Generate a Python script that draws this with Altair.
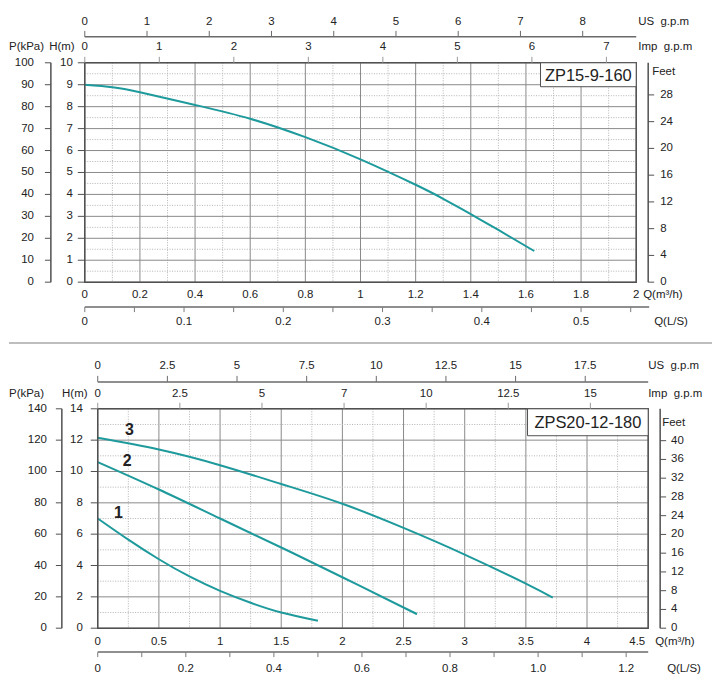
import altair as alt
import pandas as pd

FONT = "Liberation Sans"
TXT = "#222222"
CURVE = "#1e9a9c"
MAJOR = "#8a8a8a"
MINOR = "#b4b4b4"
AX = "#505050"
SEP = "#a8a8a8"
FS = 11.5
NB = "\u00a0"

# ---------------- panel 1 : ZP15-9-160 ----------------
p1_name = "ZP15-9-160"
p1_q = [0, 0.1, 0.2, 0.4, 0.6, 0.8, 1.0, 1.2, 1.3, 1.4, 1.5, 1.63]
p1_h = [9.0, 8.89, 8.66, 8.08, 7.45, 6.61, 5.6, 4.44, 3.8, 3.1, 2.38, 1.42]
p1_q_major = [0, 0.2, 0.4, 0.6, 0.8, 1, 1.2, 1.4, 1.6, 1.8, 2]
p1_q_labels = ["0", "0.2", "0.4", "0.6", "0.8", "1", "1.2", "1.4", "1.6", "1.8", "2"]
p1_q_minor = [0.1, 0.3, 0.5, 0.7, 0.9, 1.1, 1.3, 1.5, 1.7, 1.9]
p1_h_major = [0, 1, 2, 3, 4, 5, 6, 7, 8, 9, 10]
p1_h_minor = [0.5, 1.5, 2.5, 3.5, 4.5, 5.5, 6.5, 7.5, 8.5, 9.5]
p1_p = [0, 10, 20, 30, 40, 50, 60, 70, 80, 90, 100]
p1_feet = [0, 4, 8, 12, 16, 20, 24, 28]
p1_us = [0, 1, 2, 3, 4, 5, 6, 7, 8]
p1_imp = [0, 1, 2, 3, 4, 5, 6, 7]
p1_ls = [0, 0.05, 0.1, 0.15, 0.2, 0.25, 0.3, 0.35, 0.4, 0.45, 0.5, 0.55]
p1_ls_labels = ["0", "", "0.1", "", "0.2", "", "0.3", "", "0.4", "", "0.5", ""]

# ---------------- panel 2 : ZPS20-12-180 ----------------
p2_name = "ZPS20-12-180"
p2_c1_q = [0, 0.25, 0.5, 0.75, 1.0, 1.25, 1.5, 1.8]
p2_c1_h = [7.0, 5.65, 4.4, 3.3, 2.38, 1.62, 1.0, 0.47]
p2_c2_q = [0, 0.5, 1.0, 1.5, 2.0, 2.5, 2.61]
p2_c2_h = [10.6, 8.85, 7.0, 5.15, 3.25, 1.32, 0.9]
p2_c3_q = [0, 0.5, 1.0, 1.5, 2.0, 2.5, 3.0, 3.5, 3.72]
p2_c3_h = [12.15, 11.4, 10.4, 9.2, 7.94, 6.4, 4.7, 2.85, 1.95]
p2_curve_names = ["1", "2", "3"]
p2_label_q = [0.17, 0.24, 0.26]
p2_label_h = [7.34, 10.69, 12.67]
p2_q_major = [0, 0.5, 1, 1.5, 2, 2.5, 3, 3.5, 4, 4.5]
p2_q_labels = ["0", "0.5", "1", "1.5", "2", "2.5", "3", "3.5", "4", "4.5"]
p2_q_minor = [0.25, 0.75, 1.25, 1.75, 2.25, 2.75, 3.25, 3.75, 4.25]
p2_h_major = [0, 2, 4, 6, 8, 10, 12, 14]
p2_h_minor = [1, 3, 5, 7, 9, 11, 13]
p2_p = [0, 20, 40, 60, 80, 100, 120, 140]
p2_feet = [0, 4, 8, 12, 16, 20, 24, 28, 32, 36, 40]
p2_us = [0, 2.5, 5, 7.5, 10, 12.5, 15, 17.5]
p2_us_labels = ["0", "2.5", "5", "7.5", "10", "12.5", "15", "17.5"]
p2_imp = [0, 2.5, 5, 7.5, 10, 12.5, 15]
p2_imp_labels = ["0", "2.5", "5", "7", "10", "12.5", "15"]
p2_ls = [0, 0.1, 0.2, 0.3, 0.4, 0.5, 0.6, 0.7, 0.8, 0.9, 1.0, 1.1, 1.2]
p2_ls_labels = ["0", "", "0.2", "", "0.4", "", "0.6", "", "0.8", "", "1.0", "", "1.2"]

FW, FH = 565, 220   # common frame of both panels


def panel(cfg):
    x0, W = cfg["x0"], cfg["W"]
    qmax, hmax = cfg["q_max"], cfg["h_max"]
    xs = alt.Scale(domain=[0, qmax], nice=False, zero=False, range=[x0, x0 + W])
    ys = alt.Scale(domain=[0, hmax], nice=False, zero=False)
    one = pd.DataFrame({"a": [0]})

    def X(field="q"):
        return alt.X(field + ":Q", scale=xs, axis=None)

    def Y(field="h"):
        return alt.Y(field + ":Q", scale=ys, axis=None)

    def txt(**kw):
        base = dict(font=FONT, fontSize=FS, color=TXT)
        base.update(kw)
        return base

    def title(text, x, y, align="left"):
        return alt.Chart(pd.DataFrame({"t": [text]})).mark_text(
            **txt(align=align, baseline="middle")
        ).encode(x=alt.value(x), y=alt.value(y), text="t:N")

    layers = []
    # ---- grid (rules from grid values) ----
    for vals, dash, col in ((cfg["q_minor"], [1, 1.5], MINOR), (cfg["q_major"], None, MAJOR)):
        mk = dict(color=col, strokeWidth=1)
        if dash:
            mk["strokeDash"] = dash
        layers.append(alt.Chart(pd.DataFrame({"q": vals})).mark_rule(**mk).encode(
            x=X(), y=alt.value(0), y2=alt.value(FH)))
    for vals, dash, col in ((cfg["h_minor"], [1, 1.5], MINOR), (cfg["h_major"], None, MAJOR)):
        mk = dict(color=col, strokeWidth=1)
        if dash:
            mk["strokeDash"] = dash
        layers.append(alt.Chart(pd.DataFrame({"h": vals})).mark_rule(**mk).encode(
            y=Y(), x=alt.value(x0), x2=alt.value(x0 + W)))

    # ---- curves ----
    rows = []
    for cname, qs, hs in cfg["curves"]:
        for q, h in zip(qs, hs):
            rows.append({"curve": cname, "q": q, "h": h})
    curves = pd.DataFrame(rows)
    layers.append(alt.Chart(curves).mark_line(
        color=CURVE, strokeWidth=2, interpolate="natural"
    ).encode(x=X(), y=Y(), detail="curve:N"))

    # ---- plot border ----
    layers.append(alt.Chart(one).mark_rect(
        fillOpacity=0, stroke=AX, strokeWidth=1.5
    ).encode(x=alt.value(x0), x2=alt.value(x0 + W), y=alt.value(0), y2=alt.value(FH)))

    # ---- main Q axis labels ----
    ql, qt = list(cfg["q_major"]), list(cfg["q_labels"])
    flush = cfg.get("q_flush", False)
    main_q = pd.DataFrame({"q": ql[:-1] if flush else ql, "t": qt[:-1] if flush else qt})
    layers.append(alt.Chart(main_q).mark_text(**txt(align="center", baseline="middle")).encode(
        x=X(), y=alt.value(FH + cfg["q_ly"]), text="t:N"))
    if flush:
        last_q = pd.DataFrame({"q": ql[-1:], "t": qt[-1:]})
        layers.append(alt.Chart(last_q).mark_text(
            **txt(align="right", baseline="middle", dx=-3)
        ).encode(x=X(), y=alt.value(FH + cfg["q_ly"]), text="t:N"))
    layers.append(title("Q(m³/h)", cfg["q_tx"], FH + cfg["q_ly"]))

    # ---- main H axis ----
    hdf = pd.DataFrame({"h": cfg["h_major"], "t": [format(v, "g") for v in cfg["h_major"]]})
    layers.append(alt.Chart(hdf).mark_rule(color=AX, strokeWidth=1).encode(
        y=Y(), x=alt.value(x0 - 7), x2=alt.value(x0)))
    layers.append(alt.Chart(hdf).mark_text(**txt(align="right", baseline="middle")).encode(
        y=Y(), x=alt.value(cfg["h_lx"]), text="t:N"))
    layers.append(title("H(m)", cfg["h_tx"], cfg["h_ty"], align="center"))

    # ---- model box ----
    bw, bh = cfg["box"]
    box_df = pd.DataFrame({"name": [cfg["name"]]})
    layers.append(alt.Chart(box_df).mark_rect(
        fill="white", stroke=AX, strokeWidth=1
    ).encode(x=alt.value(x0 + W - bw), x2=alt.value(x0 + W), y=alt.value(0),
             y2=alt.value(bh)))
    layers.append(alt.Chart(box_df).mark_text(
        **txt(fontSize=16.5, align="center", baseline="middle")
    ).encode(x=alt.value(x0 + W - bw / 2), y=alt.value(bh / 2 + 1), text="name:N"))

    # ---- curve numbers ----
    if cfg.get("labels"):
        lq, lh, lt = cfg["labels"]
        ldf = pd.DataFrame({"q": lq, "h": lh, "t": lt})
        layers.append(alt.Chart(ldf).mark_text(
            **txt(fontSize=16, fontWeight="bold", align="center", baseline="middle")
        ).encode(x=X(), y=Y(), text="t:N"))

    # ---- horizontal secondary axes (values converted into m3/h) ----
    def haxis(vals, labels, unit_max, line_y, tick_y2, label_y, ttl, title_x,
              line=True, tcol="#6a6a6a", ext=0):
        fac = qmax / unit_max
        if labels is None:
            labels = [format(v, "g") for v in vals]
        df = pd.DataFrame({"v": vals, "t": labels})
        base = alt.Chart(df).transform_calculate(q="datum.v * %r" % fac)
        out = []
        if line:
            out.append(alt.Chart(one).mark_rule(color="#6a6a6a", strokeWidth=1.5).encode(
                x=alt.value(x0), x2=alt.value(x0 + W + ext), y=alt.value(line_y)))
        out.append(base.mark_rule(color=tcol, strokeWidth=1).encode(
            x=X(), y=alt.value(line_y), y2=alt.value(tick_y2)))
        out.append(base.mark_text(**txt(align="center", baseline="middle")).encode(
            x=X(), y=alt.value(label_y), text="t:N"))
        out.append(title(ttl, title_x, label_y))
        return out

    a = cfg["us_axis"]
    layers += haxis(cfg["us"], cfg.get("us_labels"), cfg["us_max"], a[0], a[0] - 6,
                    a[1], "US" + NB + NB + "g.p.m", a[2])
    a = cfg["imp_axis"]
    layers += haxis(cfg["imp"], cfg.get("imp_labels"), cfg["imp_max"], 0, -6,
                    a[1], "Imp" + NB + NB + "g.p.m", a[2], line=False, tcol="#9a9a9a")
    a = cfg["ls_axis"]
    layers += haxis(cfg["ls"], cfg["ls_labels"], cfg["ls_max"], a[0], a[0] + 5,
                    a[1], "Q(L/S)", a[2], tcol="#7a7a7a", ext=a[3])

    # ---- vertical secondary axes (values converted into m) ----
    def vaxis(vals, unit_max, line_x, tick_x2, label_x, align, ttl, title_x, title_y):
        fac = hmax / unit_max
        df = pd.DataFrame({"v": vals, "t": [format(v, "g") for v in vals]})
        base = alt.Chart(df).transform_calculate(h="datum.v * %r" % fac)
        return [
            alt.Chart(one).mark_rule(color=AX, strokeWidth=1.5).encode(
                x=alt.value(line_x), y=alt.value(0), y2=alt.value(FH)),
            base.mark_rule(color=AX, strokeWidth=1).encode(
                y=Y(), x=alt.value(line_x), x2=alt.value(tick_x2)),
            base.mark_text(**txt(align=align, baseline="middle")).encode(
                y=Y(), x=alt.value(label_x), text="t:N"),
            title(ttl, title_x, title_y),
        ]

    a = cfg["p_axis"]
    layers += vaxis(cfg["p"], cfg["p_max"], a[0], a[0] - 6, a[1], "right",
                    "P(kPa)", -76, a[2])
    a = cfg["f_axis"]
    layers += vaxis(cfg["feet"], cfg["feet_max"], a[0], a[0] + 6, a[1], "left",
                    "Feet", a[2], a[3])

    # invisible rule fixing the panel's upper-left extent
    layers.append(alt.Chart(one).mark_rule(strokeOpacity=0, strokeWidth=0.1).encode(
        x=alt.value(-76), x2=alt.value(0), y=alt.value(cfg["top"])))
    if cfg.get("sep") is not None:
        layers.append(alt.Chart(one).mark_rule(stroke=SEP, strokeWidth=1.5).encode(
            x=alt.value(-76), x2=alt.value(629), y=alt.value(cfg["sep"])))

    return alt.layer(*layers).properties(width=FW, height=FH)


cfg1 = dict(
    x0=0, W=553, name=p1_name, q_max=2, h_max=10,
    curves=[("a", p1_q, p1_h)],
    q_major=p1_q_major, q_labels=p1_q_labels, q_minor=p1_q_minor,
    h_major=p1_h_major, h_minor=p1_h_minor,
    q_ly=13, q_tx=560, h_lx=-12, h_tx=-23, h_ty=-16,
    box=(96, 24),
    us=p1_us, us_max=8.86, us_axis=(-26, -41, 555),
    imp=p1_imp, imp_max=7.40, imp_axis=(0, -16, 555),
    ls=p1_ls, ls_labels=p1_ls_labels, ls_max=2 / 3.6, ls_axis=(245, 260, 571, 13),
    p=p1_p, p_max=100, p_axis=(-34, -51, -16),
    feet=p1_feet, feet_max=32.8, f_axis=(565, 577, 569, 9),
    top=-54, sep=281,
)

cfg2 = dict(
    x0=13, W=552, name=p2_name, q_max=4.5, h_max=14,
    curves=[("1", p2_c1_q, p2_c1_h), ("2", p2_c2_q, p2_c2_h), ("3", p2_c3_q, p2_c3_h)],
    labels=(p2_label_q, p2_label_h, p2_curve_names),
    q_major=p2_q_major, q_labels=p2_q_labels, q_minor=p2_q_minor, q_flush=True,
    h_major=p2_h_major, h_minor=p2_h_minor,
    q_ly=14, q_tx=572, h_lx=-2, h_tx=-10, h_ty=-15,
    box=(121, 27),
    us=p2_us, us_labels=p2_us_labels, us_max=19.76, us_axis=(-27, -43, 565),
    imp=p2_imp, imp_labels=p2_imp_labels, imp_max=16.76, imp_axis=(0, -15, 565),
    ls=p2_ls, ls_labels=p2_ls_labels, ls_max=4.5 / 3.6, ls_axis=(244, 261, 584, 0),
    p=p2_p, p_max=140, p_axis=(-23, -38, -15),
    feet=p2_feet, feet_max=46.8, f_axis=(577, 588, 579, 14),
    top=-65, sep=None,
)

top = panel(cfg1)
bottom = panel(cfg2)

chart = alt.vconcat(
    top, bottom, spacing=0,
    padding={"left": 0, "top": 0, "right": 0, "bottom": 0},
).configure_view(stroke=None)

chart.save("out.html", embed_options={"renderer": "svg", "actions": False})
